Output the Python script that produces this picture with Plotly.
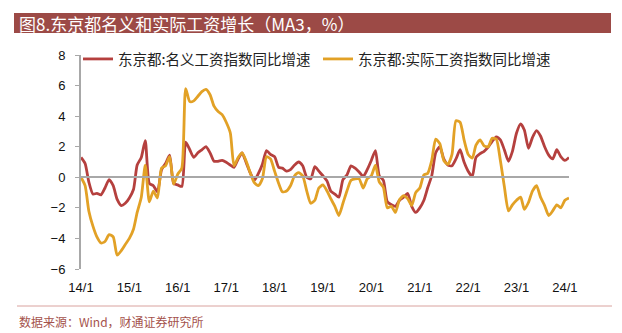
import pandas as pd
import plotly.graph_objects as go

# Monthly observations, Jan 2014 - Feb 2024 (3-month moving average, % YoY)
months = pd.date_range("2014-01-01", "2024-02-01", freq="MS")

nominal_wage_yoy = [
    1.3, 0.9, -0.3, -1.1, -1.05, -1.15, -0.7, -0.15, -0.55, -1.45, -1.85, -1.7,      # 2014
    -1.35, -0.8, 0.8, 1.3, 2.4, -0.4, -0.55, -0.95, 0.5, 0.9, 1.45, -0.4,             # 2015
    -0.5, -0.6, 2.3, 1.8, 1.3, 1.6, 1.8, 2.0, 1.6, 1.05, 1.05, 1.1,                   # 2016
    0.98, 0.8, 0.65, 1.2, 1.6, 0.95, 0.3, -0.2, 0.25, 0.85, 1.75, 1.5,                # 2017
    1.35, 0.65, 0.6, 0.4, 0.5, 0.8, 1.0, 0.75, 0.0, -0.1, 0.7, 0.4,                   # 2018
    0.1, -0.25, -0.9, -1.1, -1.3, -0.15, 0.15, 0.75, 0.6, 0.35, 0.05, 0.5,            # 2019
    1.1, 1.75, 0.1, -0.2, -1.6, -1.8, -1.9, -1.5, -1.3, -1.05, -1.9, -2.3,            # 2020
    -2.0, -1.5, -0.7, 0.1, 1.6, 2.0, 1.2, 0.8, 0.75, 1.2, 1.8, 1.0,                   # 2021
    0.4, 0.05, 1.3, 1.55, 1.7, 1.97, 2.35, 2.65, 2.45, 1.8, 1.05, 1.7,                # 2022
    2.9, 3.5, 3.1, 1.9, 2.6, 3.05, 2.7, 2.0, 1.45, 1.2, 1.8, 1.35,                    # 2023
    1.1, 1.3,                                                                          # 2024
]

real_wage_yoy = [
    0.0, -0.55, -2.2, -3.2, -3.9, -4.3, -4.2, -3.75, -3.9, -5.1, -4.8, -4.4,          # 2014
    -4.0, -3.4, -2.3, -1.3, 0.8, -1.6, -0.9, -1.35, 0.6, 0.75, 1.35, -0.45,           # 2015
    0.2, 0.6, 5.8, 4.95, 5.0, 5.3, 5.6, 5.75, 5.4, 4.65, 4.3, 4.1,                    # 2016
    3.6, 2.9, 0.75, 1.3, 1.6, 1.05, 0.3, -0.35, -0.55, -0.1, 1.35, 1.2,               # 2017
    0.4, -0.4, -0.95, -0.9, -0.55, 0.1, 0.3, 0.1, -0.9, -1.7, -1.5, -0.7,             # 2018
    -0.5, -0.9, -1.4, -1.9, -2.5, -1.7, -0.9, -0.2, -0.1, -0.1, -0.7, -0.1,           # 2019
    0.1, 0.8, -0.3, -0.65, -2.0, -1.9, -2.3, -1.45, -1.2, -1.4, -1.85, -1.0,          # 2020
    -0.7, 0.15, 0.25, 1.1, 2.5, 2.2, 1.1, 0.85, 1.5, 3.7, 3.6, 2.45,                  # 2021
    1.5, 1.25, 2.1, 2.45, 2.05, 2.0, 2.55, 2.5, 1.1, -0.6, -2.2, -1.8,                # 2022
    -1.5, -1.3, -2.1, -1.65, -0.9, -0.55, -1.3, -1.85, -2.5, -2.2, -1.8, -2.0,        # 2023
    -1.5, -1.35,                                                                       # 2024
]

series_names = ["东京都:名义工资指数同比增速", "东京都:实际工资指数同比增速"]
series_colors = ["#B5403E", "#E2A126"]

tick_dates = pd.date_range("2014-01-01", "2024-01-01", freq="YS")
tick_labels = ["14/1", "15/1", "16/1", "17/1", "18/1", "19/1",
               "20/1", "21/1", "22/1", "23/1", "24/1"]
y_ticks = [-6, -4, -2, 0, 2, 4, 6, 8]

title_text = "图8.东京都名义和实际工资增长（MA3，%）"
source_text = "数据来源：Wind，财通证券研究所"

W, H = 622, 333
ML, MR, MT, MB = 81, 53, 55, 64
PW, PH = W - ML - MR, H - MT - MB


def paper_x(px):
    return (px - ML) / PW


def paper_y(py):
    return (H - MB - py) / PH


CJK = "Noto Sans CJK SC"
LATIN = "Arial, Liberation Sans, sans-serif"
AXIS_GREY = "#A8A8A8"

fig = go.Figure()
for name, vals, col in zip(series_names, [nominal_wage_yoy, real_wage_yoy], series_colors):
    fig.add_trace(go.Scatter(
        x=months, y=vals, name=name, mode="lines",
        line=dict(color=col, width=2.8, shape="spline", smoothing=0.6),
        hoverinfo="skip",
    ))

# empty trace so the zero-line axis is laid out
fig.add_trace(go.Scatter(x=[], y=[], xaxis="x2", showlegend=False, hoverinfo="skip"))

x_range = [months[0], months[-1]]

fig.update_layout(
    width=W, height=H,
    margin=dict(l=ML, r=MR, t=MT, b=MB, autoexpand=False),
    paper_bgcolor="white", plot_bgcolor="white",
    showlegend=True,
    legend=dict(
        orientation="h",
        xref="container", x=78 / W,
        yref="paper", y=paper_y(59), xanchor="left", yanchor="middle",
        font=dict(family=CJK, size=14.5, color="#222222"),
        entrywidth=195, entrywidthmode="pixels",
        bgcolor="rgba(0,0,0,0)",
        itemclick=False, itemdoubleclick=False,
    ),
    xaxis=dict(
        range=x_range, tickvals=tick_dates, ticktext=tick_labels,
        showline=False, ticks="", showgrid=False, zeroline=False,
        tickfont=dict(family=LATIN, size=13, color="#111111"),
        ticklabelstandoff=9,
    ),
    xaxis2=dict(
        range=x_range, overlaying="x", anchor="free", position=6 / 14,
        tickvals=tick_dates, showticklabels=False,
        showline=True, linecolor=AXIS_GREY, linewidth=2,
        ticks="outside", ticklen=4, tickcolor=AXIS_GREY, tickwidth=1,
        showgrid=False, zeroline=False,
    ),
    yaxis=dict(
        range=[-6, 8], tickvals=y_ticks, domain=[0, 1],
        showline=True, linecolor=AXIS_GREY, linewidth=2,
        ticks="outside", ticklen=4, tickcolor=AXIS_GREY, tickwidth=1,
        showgrid=False, zeroline=False,
        tickfont=dict(family=LATIN, size=13, color="#111111"),
        ticklabelstandoff=7,
    ),
    shapes=[
        # title banner
        dict(type="rect", xref="paper", yref="paper",
             x0=paper_x(14), x1=paper_x(611), y0=paper_y(33), y1=paper_y(13),
             fillcolor="#9C4A46", line=dict(width=0), layer="below"),
        # separator above the source note
        dict(type="line", xref="paper", yref="paper",
             x0=paper_x(17), x1=paper_x(612), y0=paper_y(306), y1=paper_y(306),
             line=dict(color="#D9A29E", width=1)),
    ],
    annotations=[
        dict(text=title_text, xref="paper", yref="paper",
             x=paper_x(17), y=paper_y(23), xanchor="left", yanchor="middle",
             showarrow=False, font=dict(family=CJK, size=17, color="white")),
        dict(text=source_text, xref="paper", yref="paper",
             x=paper_x(17), y=paper_y(321), xanchor="left", yanchor="middle",
             showarrow=False, font=dict(family=CJK, size=12, color="#A4524C")),
    ],
)

fig.write_html("out.html")
